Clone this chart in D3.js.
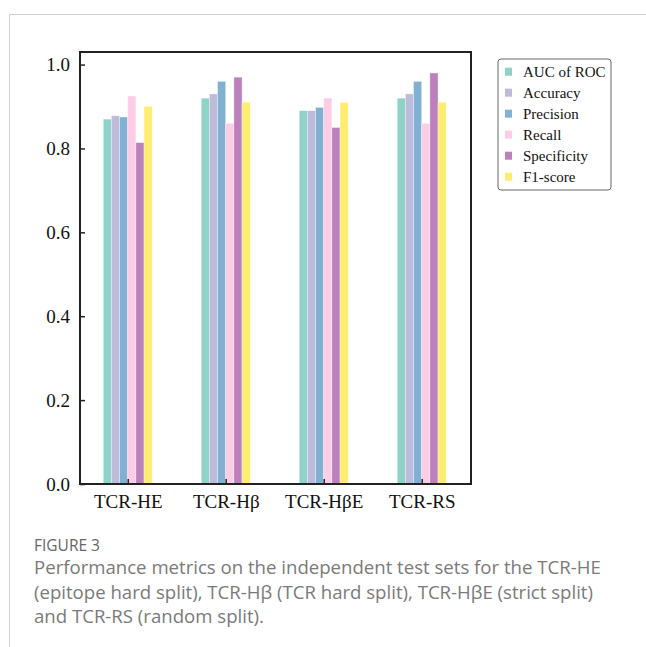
<!DOCTYPE html>
<html>
<head>
<meta charset="utf-8">
<script src="https://cdn.jsdelivr.net/npm/d3@7"></script>
<style>
  body { margin: 0; background: #fff; }
  svg { display: block; }
</style>
</head>
<body>
<svg id="chart" width="646" height="647"></svg>
<script>
// test sets and metrics
const groups = ['TCR-HE', 'TCR-Hβ', 'TCR-HβE', 'TCR-RS'];
const metrics = ['AUC of ROC', 'Accuracy', 'Precision', 'Recall', 'Specificity', 'F1-score'];
const colors = ['#8dd3c7', '#bebada', '#80b1d3', '#fccde5', '#bc80bd', '#ffed6f'];

// one array per metric, values in group order
const aucValues = [0.870, 0.920, 0.890, 0.920];
const accValues = [0.878, 0.930, 0.890, 0.930];
const precValues = [0.875, 0.960, 0.898, 0.960];
const recallValues = [0.925, 0.860, 0.920, 0.860];
const specValues = [0.814, 0.970, 0.850, 0.980];
const f1Values = [0.900, 0.910, 0.910, 0.910];

const yTicks = [0, 0.2, 0.4, 0.6, 0.8, 1.0];

const series = [aucValues, accValues, precValues, recallValues, specValues, f1Values];
const bars = [];
series.forEach((vals, m) => {
    vals.forEach((v, g) => bars.push({ group: g, metric: m, value: v }));
});

const svg = d3.select('#chart');
const serif = '"Liberation Serif", "Times New Roman", serif';

// card outline
svg.append('path')
    .attr('d', 'M9.5,647 V14.5 H646')
    .attr('fill', 'none')
    .attr('stroke', '#d0d0d0')
    .attr('stroke-width', 1);

const plot = { left: 80, right: 471, top: 52, bottom: 484 };

const x = d3.scaleLinear().domain([-0.487, 3.503]).range([plot.left, plot.right]);
const y = d3.scaleLinear().domain([0, 1.03]).range([plot.bottom, plot.top]);
const barW = x(1 / 12) - x(0);

// bars
svg.append('g')
    .selectAll('rect')
    .data(bars)
    .enter()
    .append('rect')
    .attr('x', d => x(d.group + (d.metric - 2.5) / 12) - barW / 2)
    .attr('y', d => y(d.value))
    .attr('width', barW)
    .attr('height', d => y(0) - y(d.value))
    .attr('fill', d => colors[d.metric])
    .attr('stroke', '#fff')
    .attr('stroke-opacity', 0.6)
    .attr('stroke-width', 0.6);

// y axis, ticks pointing in
const yAxis = d3.axisLeft(y)
    .tickValues(yTicks)
    .tickFormat(d3.format('.1f'))
    .tickSize(-5)
    .tickPadding(10);

svg.append('g')
    .attr('transform', `translate(${plot.left},0)`)
    .call(yAxis)
    .call(g => g.select('.domain').remove())
    .call(g => g.selectAll('line').attr('stroke', '#222').attr('stroke-width', 1.5))
    .call(g => g.selectAll('text')
        .attr('font-family', serif)
        .attr('font-size', 19)
        .attr('fill', '#111'));

// x axis, ticks pointing in
const xAxis = d3.axisBottom(x)
    .tickValues(d3.range(groups.length))
    .tickFormat(i => groups[i])
    .tickSize(-5)
    .tickPadding(11);

svg.append('g')
    .attr('transform', `translate(0,${plot.bottom})`)
    .call(xAxis)
    .call(g => g.select('.domain').remove())
    .call(g => g.selectAll('line').attr('stroke', '#222').attr('stroke-width', 1.5))
    .call(g => g.selectAll('text')
        .attr('font-family', serif)
        .attr('font-size', 19)
        .attr('fill', '#111'));

// frame
svg.append('rect')
    .attr('x', plot.left)
    .attr('y', plot.top)
    .attr('width', plot.right - plot.left)
    .attr('height', plot.bottom - plot.top)
    .attr('fill', 'none')
    .attr('stroke', '#222')
    .attr('stroke-width', 2);

// legend
const legend = svg.append('g').attr('transform', 'translate(498,59)');
legend.append('rect')
    .attr('width', 113)
    .attr('height', 131)
    .attr('rx', 3)
    .attr('fill', '#fff')
    .attr('stroke', '#666')
    .attr('stroke-width', 1);

const items = legend.selectAll('g.item')
    .data(metrics)
    .enter()
    .append('g')
    .attr('class', 'item')
    .attr('transform', (d, i) => `translate(0,${12.7 + i * 21})`);

items.append('rect')
    .attr('x', 7)
    .attr('y', -4)
    .attr('width', 7)
    .attr('height', 8)
    .attr('fill', (d, i) => colors[i]);

items.append('text')
    .attr('x', 25)
    .attr('y', 5)
    .attr('font-family', serif)
    .attr('font-size', 15)
    .attr('fill', '#111')
    .text(d => d);

// caption
const sans = '"Open Sans", "Noto Sans", sans-serif';
svg.append('text')
    .attr('x', 34)
    .attr('y', 551)
    .attr('font-family', sans)
    .attr('font-size', 15.5)
    .attr('fill', '#666')
    .text('FIGURE 3');

const captionLines = [
    'Performance metrics on the independent test sets for the TCR-HE',
    '(epitope hard split), TCR-Hβ (TCR hard split), TCR-HβE (strict split)',
    'and TCR-RS (random split).'
];
svg.append('g')
    .selectAll('text')
    .data(captionLines)
    .enter()
    .append('text')
    .attr('x', 34)
    .attr('y', (d, i) => 574 + i * 24.5)
    .attr('font-family', sans)
    .attr('font-size', 18.6)
    .attr('fill', '#7a7a7a')
    .text(d => d);
</script>
</body>
</html>
